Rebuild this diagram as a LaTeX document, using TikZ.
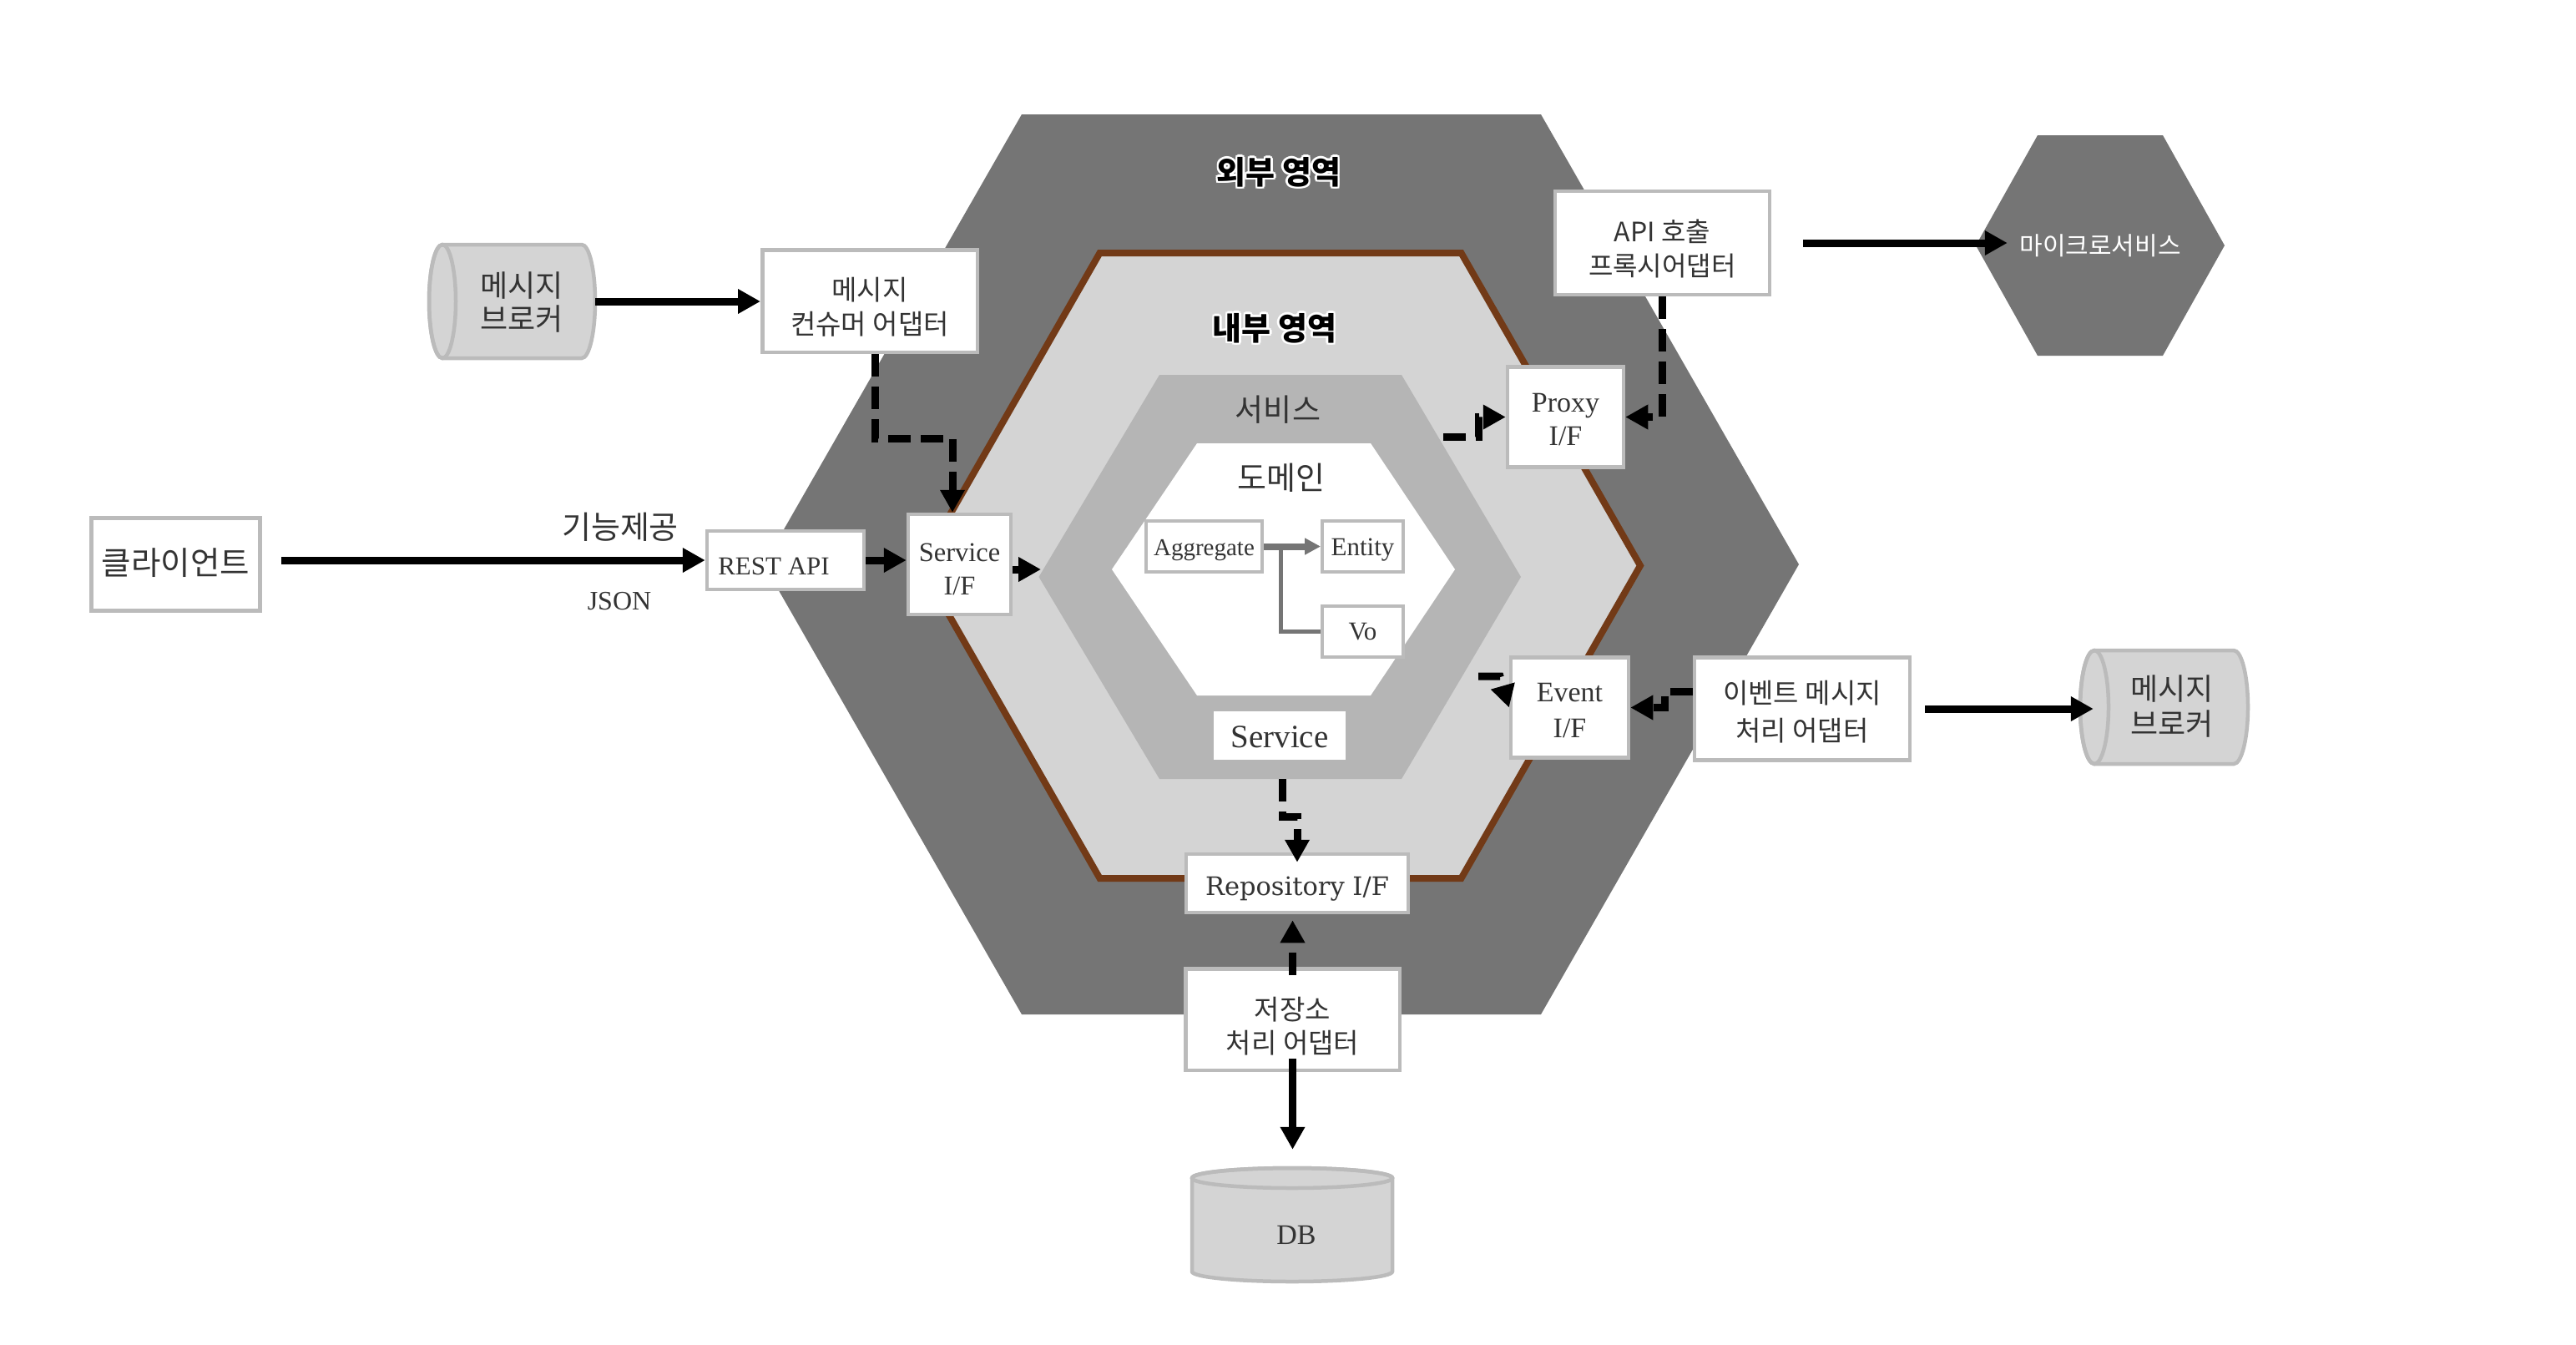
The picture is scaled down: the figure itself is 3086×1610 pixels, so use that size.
\documentclass[tikz,border=0pt]{standalone}
\usepackage{fontspec}
\setmainfont{Liberation Serif}
\newfontfamily\kr{Noto Sans CJK KR}
\newfontfamily\dvs{DejaVu Serif}
\usetikzlibrary{arrows.meta}
\definecolor{outerg}{HTML}{757575}
\definecolor{innerg}{HTML}{D4D4D4}
\definecolor{svcg}{HTML}{B5B5B5}
\definecolor{brd}{HTML}{BBBBBB}
\definecolor{hexbrown}{HTML}{723A17}
\definecolor{txt}{HTML}{333333}
\newcommand\haloone[3]{\rlap{\kern#1\raisebox{#2}{\textcolor{white}{#3}}}}
\newcommand\halotext[1]{\haloone{2.5pt}{0pt}{#1}\haloone{-2.5pt}{0pt}{#1}\haloone{0pt}{2.5pt}{#1}\haloone{0pt}{-2.5pt}{#1}\haloone{1.8pt}{1.8pt}{#1}\haloone{-1.8pt}{1.8pt}{#1}\haloone{1.8pt}{-1.8pt}{#1}\haloone{-1.8pt}{-1.8pt}{#1}#1}
\begin{document}
\begin{tikzpicture}[x=1pt,y=-1pt,
  box/.style={draw=brd, line width=4.5pt, fill=white, inner sep=0pt, text=txt, align=center},
  dbox/.style={draw=brd, line width=4pt, fill=white, inner sep=0pt, text=txt, align=center},
  plain/.style={inner sep=0pt, text=txt, align=center},
  cylfill/.style={fill=innerg, draw=brd, line width=4.5pt},
  solidarrow/.style={line width=9pt, -{Triangle[length=27pt,width=28pt]}},
  dasharrow/.style={line width=9pt, dash pattern=on 27pt off 12pt, -{Triangle[length=27pt,width=28pt]}},
  grayarrow/.style={draw=outerg, line width=8pt, -{Triangle[length=19pt,width=19pt]}}
]
\useasboundingbox[fill=white] (0,0) rectangle (3086,1610);

% hexagons
\fill[outerg] (915,676) -- (1224,137) -- (1846,137) -- (2155,676) -- (1846,1215) -- (1224,1215) -- cycle;
\filldraw[fill=innerg, draw=hexbrown, line width=8pt, line join=miter] (1103,677.5) -- (1317.5,303) -- (1750.5,303) -- (1965,677.5) -- (1750.5,1052) -- (1317.5,1052) -- cycle;
\fill[svcg] (1244.5,691) -- (1389,449) -- (1679,449) -- (1822,691) -- (1679,933) -- (1389,933) -- cycle;
\fill[white] (1332,682) -- (1434,531) -- (1642,531) -- (1743,682) -- (1642,833) -- (1434,833) -- cycle;
\fill[outerg] (2367,294) -- (2441,162) -- (2591,162) -- (2665,294) -- (2591,426) -- (2441,426) -- cycle;

% area labels
\node[inner sep=0pt, anchor=base, font=\kr\bfseries\fontsize{38}{44}\selectfont] (outerlbl) at (1532,220.4) {\halotext{외부 영역}};
\node[inner sep=0pt, anchor=base, font=\kr\bfseries\fontsize{38}{44}\selectfont] (innerlbl) at (1527,407.4) {\halotext{내부 영역}};
\node[plain, anchor=base, font=\kr\fontsize{37}{42}\selectfont] (svclbl) at (1531,504.4) {서비스};
\node[plain, anchor=base, font=\kr\fontsize{38}{42}\selectfont] (domlbl) at (1535,586) {도메인};
\node[inner sep=0pt, minimum width=298pt, minimum height=264pt, text=white, text height=31.4pt, text depth=8.6pt, font=\kr\fontsize{30}{34}\selectfont] (micro) at (2516,294) {마이크로서비스};

% cylinders
\path[cylfill] (530,293) -- (697,293) arc[start angle=-90, end angle=90, x radius=16, y radius=68] -- (530,429) arc[start angle=90, end angle=270, x radius=16, y radius=68] -- cycle;
\draw[brd, line width=4.5pt] (530,361) ellipse [x radius=16, y radius=68];
\node[inner sep=0pt, minimum width=199pt, minimum height=136pt] (cyl1) at (613.5,361) {};
\node[plain, text height=94.7pt, text depth=25.3pt, font=\kr\fontsize{36}{40}\selectfont] (cyl1t) at (625,361) {메시지\\브로커};

\path[cylfill] (2509,779) -- (2676,779) arc[start angle=-90, end angle=90, x radius=17, y radius=68] -- (2509,915) arc[start angle=90, end angle=270, x radius=17, y radius=68] -- cycle;
\draw[brd, line width=4.5pt] (2509,847) ellipse [x radius=17, y radius=68];
\node[inner sep=0pt, minimum width=201pt, minimum height=136pt] (cyl2) at (2592.5,847) {};
\node[plain, text height=93.7pt, text depth=26.3pt, font=\kr\fontsize{36}{42}\selectfont] (cyl2t) at (2602,847) {메시지\\브로커};

\path[cylfill] (1428,1411) -- (1428,1523) arc[start angle=180, end angle=0, x radius=120, y radius=12] -- (1668,1411) arc[start angle=0, end angle=-180, x radius=120, y radius=12] -- cycle;
\draw[brd, line width=4.5pt] (1548,1411) ellipse [x radius=120, y radius=12];
\node[inner sep=0pt, minimum width=240pt, minimum height=136pt] (db) at (1548,1467) {};
\node[plain, anchor=base, font=\fontsize{34}{40}\selectfont] (dbt) at (1553,1490) {DB};

% boxes
\node[box, minimum width=202pt, minimum height=111pt, text height=32pt, text depth=8pt, font=\kr\fontsize{38.5}{44}\selectfont] (client) at (210.5,676) {클라이언트};
\node[box, minimum width=257.5pt, minimum height=122.5pt, text height=100pt, text depth=20pt, font=\kr\fontsize{33}{41}\selectfont] (cons) at (1042,360.5) {메시지\\컨슈머 어댑터};
\node[box, minimum width=188pt, minimum height=70pt, text height=37.5pt, text depth=2.5pt, font=\fontsize{31}{37}\selectfont] (rest) at (941,671) {\hspace*{-28pt}REST API};
\node[box, minimum width=123pt, minimum height=118pt, text height=96.3pt, text depth=23.7pt, font=\fontsize{32.5}{40}\selectfont] (sif) at (1149.5,676) {Service\\I/F};
\node[box, minimum width=139pt, minimum height=117pt, text height=93.7pt, text depth=26.3pt, font=\fontsize{34}{40}\selectfont] (proxy) at (1875.5,499.5) {Proxy\\I/F};
\node[box, minimum width=257pt, minimum height=124pt, text height=99.2pt, text depth=20.8pt, font=\kr\fontsize{32}{41}\selectfont] (api) at (1991.4,291) {API 호출\\프록시어댑터};
\node[box, minimum width=141pt, minimum height=117pt, text height=96.1pt, text depth=23.9pt, font=\fontsize{34}{43}\selectfont] (event) at (1880.5,847.5) {Event\\I/F};
\node[box, minimum width=258pt, minimum height=123pt, text height=98.5pt, text depth=21.5pt, font=\kr\fontsize{33}{45}\selectfont] (evtad) at (2159,849) {이벤트 메시지\\처리 어댑터};
\node[box, minimum width=266pt, minimum height=70pt, text height=34pt, text depth=6pt, font=\dvs\fontsize{30.5}{36}\selectfont] (rep) at (1554,1058) {Repository I/F};
\node[box, minimum width=256.5pt, minimum height=121.5pt, text height=100.1pt, text depth=19.9pt, font=\kr\fontsize{33}{39.6}\selectfont] (store) at (1548.5,1221) {저장소\\처리 어댑터};
\node[fill=white, inner sep=0pt, text=txt, minimum width=158pt, minimum height=58pt, text height=34.5pt, text depth=5.5pt, font=\fontsize{39}{44}\selectfont] (svcbox) at (1533,881) {Service};
\node[dbox, minimum width=139pt, minimum height=61pt, text height=30.5pt, text depth=9.5pt, font=\fontsize{29}{34}\selectfont] (agg) at (1442.5,654.5) {Aggregate};
\node[dbox, minimum width=97pt, minimum height=61pt, text height=30.5pt, text depth=9.5pt, font=\fontsize{31}{34}\selectfont] (ent) at (1632.5,654.5) {Entity};
\node[dbox, minimum width=97pt, minimum height=61pt, text height=30.2pt, text depth=9.8pt, font=\fontsize{31}{34}\selectfont] (vo) at (1632.5,756.5) {Vo};

% client labels
\node[plain, anchor=base, font=\kr\fontsize{38}{42}\selectfont] (lblfunc) at (743,645) {기능제공};
\node[plain, anchor=base, font=\fontsize{32}{38}\selectfont] (lbljson) at (742,730) {JSON};

% connectors
\draw[solidarrow] (cyl1.east) -- (cyl1.east -| cons.west);
\coordinate (cl) at ([xshift=23pt]client.east);
\draw[solidarrow] (cl |- rest.west) -- (rest.west);
\draw[solidarrow] (rest.east) -- (rest.east -| sif.west);
\coordinate (svcl) at (1247,682);
\draw[solidarrow] (sif.east |- svcl) -- (svcl);
\coordinate (c1) at (1141,525);
\draw[dasharrow] ([xshift=6pt]cons.south) |- (c1) -- (c1 |- sif.north);
\coordinate (p0) at (1729,523);
\coordinate (p1) at (1771,523);
\draw[dasharrow] (p0) -- (p1) |- (proxy.west);
\coordinate (e0) at (1771,810);
\coordinate (e1) at (1797,810);
\draw[dasharrow] (e0) -- (e1) -- (event.west);
\draw[dasharrow] (api.south) |- (proxy.east);
\draw[dasharrow] ([yshift=21pt]evtad.west) -- ++(-33,0) |- (event.east);
\draw[solidarrow] ([xshift=38pt]api.east) -- ([xshift=38pt]api.east -| micro.west);
\draw[solidarrow] ([xshift=16pt]evtad.east) -- ([xshift=16pt]evtad.east -| cyl2.west);
\coordinate (s0) at (1536,933);
\coordinate (s1) at (1536,978);
\draw[dasharrow, shorten >=-12pt] (s0) -- (s1) -| (rep.north);
\draw[dasharrow, shorten >=7pt] ([yshift=-10pt]store.north) -- (store.north |- rep.south);
\draw[solidarrow, shorten >=22pt] ([yshift=16pt]store.south) -- (store.south |- db.north);
\draw[grayarrow] (agg.east) -- (ent.west);
\draw[draw=outerg, line width=5pt] (1534,654.5) |- (vo.west);
\end{tikzpicture}
\end{document}
